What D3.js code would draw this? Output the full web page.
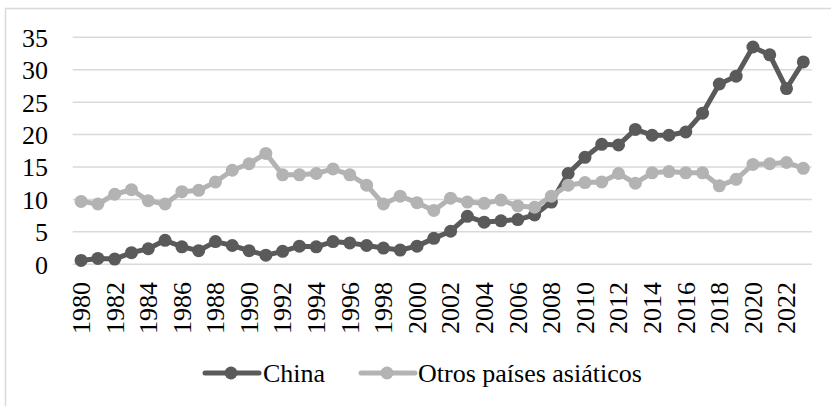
<!DOCTYPE html>
<html>
<head>
<meta charset="utf-8">
<script src="https://cdn.jsdelivr.net/npm/d3@7"></script>
<style>
html,body{margin:0;padding:0;background:#fff;}
svg{display:block;}
svg text{font-family:"Liberation Serif","Times New Roman",serif !important;fill:#000;}
</style>
</head>
<body>
<script>
const years = d3.range(1980, 2024);
const china = [0.6,0.9,0.8,1.8,2.4,3.7,2.7,2.1,3.5,2.9,2.1,1.4,2.0,2.8,2.7,3.5,3.3,2.9,2.5,2.2,2.8,4.0,5.1,7.4,6.5,6.7,6.9,7.6,9.6,14.0,16.5,18.5,18.4,20.8,19.9,19.9,20.4,23.3,27.8,29.0,33.5,32.3,27.1,31.2];
const otros = [9.7,9.3,10.8,11.5,9.8,9.3,11.2,11.4,12.7,14.5,15.5,17.1,13.8,13.8,14.0,14.7,13.8,12.2,9.3,10.5,9.5,8.3,10.2,9.6,9.4,9.9,9.0,8.8,10.5,12.2,12.6,12.7,14.0,12.5,14.1,14.3,14.1,14.1,12.1,13.1,15.4,15.5,15.7,14.8];
const yTicks = [0,5,10,15,20,25,30,35];
const seriesNames = ["China","Otros países asiáticos"];
const seriesColors = ["#5a5a5a","#b3b3b3"];

const W = 831, H = 406;
const FONT = "Liberation Serif";
const svg = d3.select("body").append("svg").attr("width", W).attr("height", H);

// chart border
svg.append("rect").attr("x",5.5).attr("y",8.5).attr("width",W+10).attr("height",H+10)
  .attr("fill","none").attr("stroke","#d9d9d9").attr("stroke-width",1.5);

const x = d3.scaleBand().domain(years).range([72.7, 811.7]);
const y = d3.scaleLinear().domain([0,35]).range([264.3, 37.3]);

// gridlines
svg.append("g").selectAll("line").data(yTicks).join("line")
  .attr("x1", x.range()[0]).attr("x2", x.range()[1])
  .attr("y1", d=>y(d)).attr("y2", d=>y(d))
  .attr("stroke","#d9d9d9").attr("stroke-width",1.5);

// y axis labels
const yAxis = d3.axisLeft(y).tickValues(yTicks).tickSize(0).tickPadding(0);
const gy = svg.append("g").attr("transform","translate(48,0)").call(yAxis)
  .attr("font-family", FONT).attr("font-size", 26);
gy.select(".domain").remove();
gy.selectAll("text").attr("font-size","26px").attr("fill","#000").attr("dy","0.34em").attr("x",0);

// x axis labels
const xAxis = d3.axisBottom(x).tickValues(years.filter(d=>d%2===0)).tickSize(0).tickPadding(0);
const gx = svg.append("g").attr("transform","translate(0,282)").call(xAxis)
  .attr("font-family", FONT).attr("font-size", 26);
gx.select(".domain").remove();
gx.selectAll("text")
  .attr("font-size","26px").attr("fill","#000")
  .attr("transform","rotate(-90)").attr("text-anchor","end")
  .attr("x",0).attr("y",0).attr("dy","0.34em");

const cx = d => x(d) + x.bandwidth()/2;
const data = [china, otros];
data.forEach((vals, i) => {
  const pts = years.map((yr, j) => [yr, vals[j]]);
  const line = d3.line().x(d=>cx(d[0])).y(d=>y(d[1]));
  const g = svg.append("g");
  g.append("path").datum(pts).attr("d", line).attr("fill","none")
    .attr("stroke", seriesColors[i]).attr("stroke-width",5).attr("stroke-linejoin","round").attr("stroke-linecap","round");
  g.selectAll("circle").data(pts).join("circle")
    .attr("cx", d=>cx(d[0])).attr("cy", d=>y(d[1])).attr("r",6.5).attr("fill", seriesColors[i]);
});

// legend
const legendItems = [{lx:205, tx:263},{lx:361, tx:418}];
legendItems.forEach((it, i) => {
  const g = svg.append("g");
  g.append("line").attr("x1", it.lx).attr("x2", it.lx+54).attr("y1",373).attr("y2",373)
    .attr("stroke", seriesColors[i]).attr("stroke-width",5).attr("stroke-linecap","round");
  g.append("circle").attr("cx", it.lx+26).attr("cy",373).attr("r",6.5).attr("fill", seriesColors[i]);
  g.append("text").attr("x", it.tx).attr("y",382).attr("font-family", FONT).attr("font-size","26px").text(seriesNames[i]);
});
</script>
</body>
</html>
